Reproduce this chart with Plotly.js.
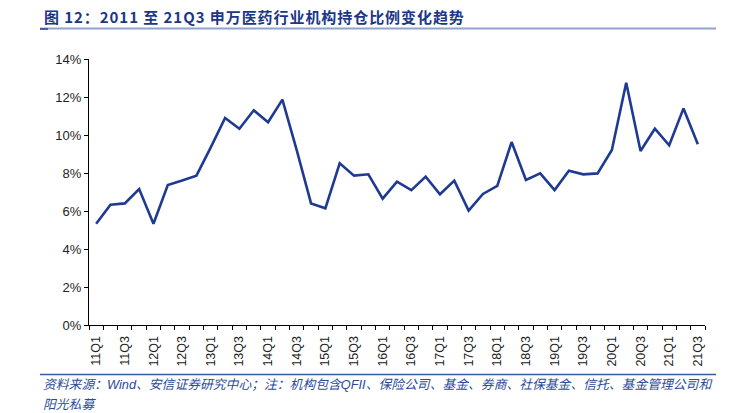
<!DOCTYPE html>
<html>
<head>
<meta charset="utf-8">
<script src="https://cdn.plot.ly/plotly-3.0.1.min.js"></script>
<style>html,body{margin:0;padding:0;background:#fff;}#chart{width:733px;height:413px;}</style>
</head>
<body>
<div id="chart"></div>
<script>
const quarters = ["11Q1","11Q2","11Q3","11Q4","12Q1","12Q2","12Q3","12Q4","13Q1","13Q2","13Q3","13Q4",
  "14Q1","14Q2","14Q3","14Q4","15Q1","15Q2","15Q3","15Q4","16Q1","16Q2","16Q3","16Q4",
  "17Q1","17Q2","17Q3","17Q4","18Q1","18Q2","18Q3","18Q4","19Q1","19Q2","19Q3","19Q4",
  "20Q1","20Q2","20Q3","20Q4","21Q1","21Q2","21Q3"];
const holdingPct = [5.33,6.33,6.40,7.16,5.33,7.37,7.60,7.86,9.35,10.90,10.33,11.30,
  10.67,11.86,9.20,6.40,6.14,8.51,7.86,7.93,6.65,7.54,7.10,7.81,
  6.88,7.60,6.02,6.90,7.32,9.63,7.63,7.98,7.10,8.12,7.93,7.98,
  9.21,12.75,9.16,10.33,9.46,11.40,9.51];
const tickLabels = quarters.filter((q,i)=>i%2===0);
const yTicks = [0,2,4,6,8,10,12,14];

const idx = quarters.map((q,i)=>i);
const tickIdx = idx.filter(i=>i%2===0);

const L=89, R=705, T=59, B=325;
const px = v => (v-L)/(R-L);
const py = v => (B-v)/(B-T);
const spaced = s => Array.from(s).join('\u200A');

const trace = {
  x: idx, y: holdingPct, type:'scatter', mode:'lines',
  line:{color:'#1F3A93', width:2.6},
  hoverinfo:'skip'
};
const layout = {
  width:733, height:413,
  margin:{l:L, r:733-R, t:T, b:413-B, pad:0},
  paper_bgcolor:'#fff', plot_bgcolor:'#fff',
  showlegend:false,
  font:{family:'"Liberation Sans", Arial, sans-serif', color:'#222'},
  xaxis:{
    range:[-0.5, quarters.length-0.5],
    tickvals:tickIdx, ticktext:tickLabels,
    tickangle:-90, ticks:'', showgrid:false, zeroline:false,
    showline:true, linecolor:'#000', linewidth:1,
    tickfont:{size:12.5, color:'#222'}, ticklabelstandoff:5,
    minor:{tick0:-0.5, dtick:1, ticks:'outside', ticklen:4, tickcolor:'#000', tickwidth:1, showgrid:false},
    fixedrange:true
  },
  yaxis:{
    range:[0,14], tickvals:yTicks, ticktext:yTicks.map(v=>v+'%'),
    ticks:'outside', ticklen:4, tickcolor:'#000', showgrid:false, zeroline:false,
    showline:true, linecolor:'#000', linewidth:1,
    tickfont:{size:13, color:'#222'}, fixedrange:true
  },
  shapes:[
    {type:'line', xref:'paper', yref:'paper', x0:px(40), x1:px(716), y0:py(28.5), y1:py(28.5), line:{color:'#8FA3CC', width:2}},
    {type:'line', xref:'paper', yref:'paper', x0:px(40), x1:px(48), y0:py(29), y1:py(29), line:{color:'#2A4490', width:1.5}},
    {type:'line', xref:'paper', yref:'paper', x0:px(40), x1:px(716), y0:py(374.5), y1:py(374.5), line:{color:'#3A5BA0', width:1.5}}
  ],
  annotations:[
    {text:'<b>'+spaced('图 12：2011 至 21Q3 申万医药行业机构持仓比例变化趋势')+'</b>', xref:'paper', yref:'paper',
     x:px(42), y:py(16), xanchor:'left', yanchor:'middle', showarrow:false,
     font:{family:'"Noto Sans CJK SC", "Liberation Sans", sans-serif', size:15, color:'#1C3788'}},
    {text:'<i>资料来源：Wind、安信证券研究中心；注：机构包含QFII、保险公司、基金、券商、社保基金、信托、基金管理公司和</i>', xref:'paper', yref:'paper',
     x:px(41), y:py(385), xanchor:'left', yanchor:'middle', showarrow:false,
     font:{family:'"Liberation Sans", "Noto Sans CJK SC", sans-serif', size:12.8, color:'#2B4A9A'}},
    {text:'<i>阳光私募</i>', xref:'paper', yref:'paper',
     x:px(41), y:py(404), xanchor:'left', yanchor:'middle', showarrow:false,
     font:{family:'"Liberation Sans", "Noto Sans CJK SC", sans-serif', size:12.8, color:'#2B4A9A'}}
  ]
};
Plotly.newPlot('chart',[trace],layout,{displayModeBar:false, staticPlot:true});
</script>
</body>
</html>
